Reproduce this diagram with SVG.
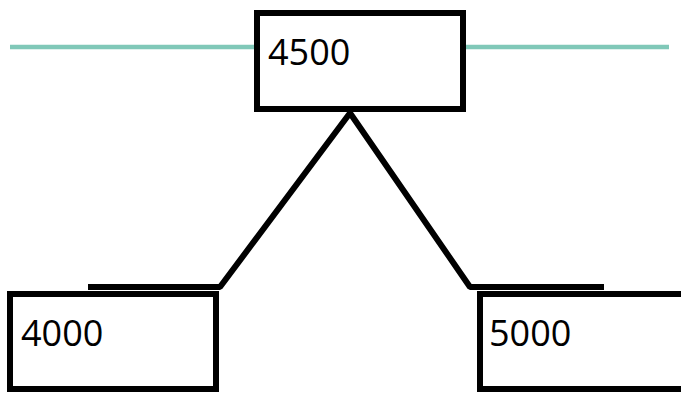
<svg xmlns="http://www.w3.org/2000/svg" width="681" height="393" viewBox="0 0 681 393">
<style>
.box{fill:#fff;stroke:#000;stroke-width:6}
.lbl{font-family:"Open Sans","Noto Sans",sans-serif;font-size:36px;fill:#000}
.teal{stroke:#80c8b8;stroke-width:4.5;fill:none}
.conn{stroke:#000;stroke-width:6;fill:none;stroke-linejoin:bevel}
</style>
<rect width="681" height="393" fill="#fff"/>
<g id="connectors">
<line class="teal" x1="10" y1="47" x2="257" y2="47"/>
<line class="teal" x1="463" y1="47" x2="669" y2="47"/>
<polyline class="conn" points="88,287 220,287 350,113 470,287 604,287"/>
</g>
<g id="node-4500">
<rect class="box" x="257" y="13" width="206" height="96"/>
<text class="lbl" x="268" y="65">4500</text>
</g>
<g id="node-4000">
<rect class="box" x="10" y="294" width="206" height="95"/>
<text class="lbl" x="21" y="346">4000</text>
</g>
<g id="node-5000">
<rect class="box" x="480" y="294" width="210" height="95"/>
<text class="lbl" x="489" y="346">5000</text>
</g>
</svg>
